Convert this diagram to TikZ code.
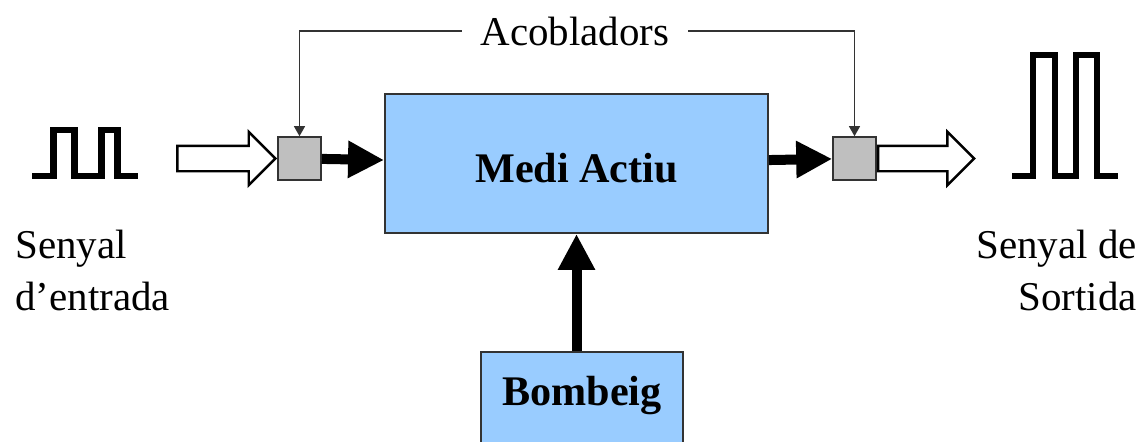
\documentclass[tikz,border=0pt]{standalone}
\usepackage{fontspec}
\setmainfont{Liberation Serif}
\usetikzlibrary{shapes.arrows,arrows.meta}
\definecolor{blau}{RGB}{153,204,255}
\newcommand{\lletra}{\fontsize{23.3pt}{29.6pt}\selectfont}
\newcommand{\negreta}{\fontsize{24pt}{29.6pt}\selectfont\bfseries}
\tikzstyle{caixa}=[rectangle,draw=black!80,fill=blau,line width=1.1pt,font=\negreta]
\tikzstyle{acob}=[rectangle,draw=black!80,fill=black!25,line width=0.9pt,minimum size=0.86cm,inner sep=0pt]
\tikzstyle{buida}=[single arrow,draw=black,fill=white,line width=1.4pt,minimum width=1.02cm,single arrow head extend=0.28cm,inner xsep=0pt,inner ysep=0.23cm]
\tikzstyle{plena}=[-{Triangle[length=0.72cm,width=0.7cm]},line width=0.2cm]
\tikzstyle{fil}=[-{Triangle[length=0.2cm,width=0.22cm]},draw=black!80,line width=0.6pt]
\tikzstyle{pols}=[line width=0.134cm]
\tikzstyle{txt}=[font=\lletra,inner sep=0pt]

\begin{document}
\begin{tikzpicture}
\useasboundingbox (0,0) rectangle (22.9,8.82);
\node[caixa,minimum width=7.66cm,minimum height=2.78cm,text height=0.74cm,text depth=0cm] (medi) at (11.53,5.55) {Medi Actiu};
\node[caixa,anchor=north,minimum width=4.04cm,inner sep=0.1cm,text height=0.98cm,text depth=0.9cm] (bomb) at (11.64,1.80) {Bombeig};
\node[acob] (inA)  at (5.99,5.65) {};
\node[acob] (outA) at (17.09,5.65) {};
\node[buida,anchor=tip,minimum height=1.96cm]  (inF)  at (inA.west) {};
\node[buida,anchor=tail,minimum height=1.92cm] (outF) at (outA.east) {};
\draw[plena] (inA) -- (medi);
\draw[plena] (medi) -- (outA);
\draw[plena] (bomb.north -| medi) -- (medi.south);
% acobladors
\node[txt,inner xsep=0.37cm] (aco) at (11.50,8.20) {Acobladors};
\draw[fil] (aco.west) -| (inA.north);
\draw[fil] (aco.east) -| (outA.north);
% senyals
\draw[pols] (0.64,5.30) -- (1.07,5.30) -- (1.07,6.22) -- (1.49,6.22) -- (1.49,5.30) -- (2.03,5.30) -- (2.03,6.22) -- (2.35,6.22) -- (2.35,5.30) -- (2.76,5.30);
\draw[pols] (20.24,5.30) -- (20.66,5.30) -- (20.66,7.72) -- (21.10,7.72) -- (21.10,5.30) -- (21.52,5.30) -- (21.52,7.72) -- (21.94,7.72) -- (21.94,5.30) -- (22.36,5.30);
\node[txt,align=left,anchor=west]  (entrada) at (0.30,3.42)  {Senyal\\d'entrada};
\node[txt,align=right,anchor=east] (sortida) at (22.74,3.42) {Senyal de\\Sortida};
\end{tikzpicture}
\end{document}
